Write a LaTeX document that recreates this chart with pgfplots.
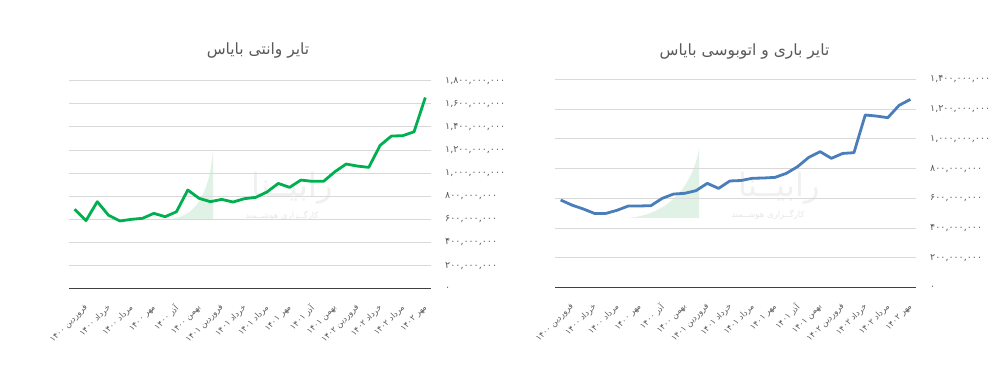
\documentclass[border=0pt]{standalone}
\usepackage{pgfplots}
\pgfplotsset{compat=1.18}
\usepackage{fontspec}
\setmainfont{DejaVu Sans}
\newfontfamily\arabicfont[Script=Arabic]{DejaVu Sans}
\TeXXeTstate=1
\definecolor{txtgray}{HTML}{595959}
\definecolor{gridgray}{HTML}{D9D9D9}
\definecolor{axgray}{HTML}{404040}
\definecolor{lgreen}{HTML}{00B050}
\definecolor{lblue}{HTML}{4A7EBB}
\definecolor{wmgreen}{HTML}{E0F1E5}
\definecolor{wmgray}{HTML}{F0F0F0}
\definecolor{wmgray2}{HTML}{E6E6E6}

\newcommand{\fa}[1]{{\arabicfont\beginR #1\endR}}

\pgfplotsset{
  mystyle/.style={
    scale only axis,
    anchor=south west,
    xmin=-0.5, xmax=31.5, ymin=0,
    axis line style={draw=none},
    ytick pos=right, yticklabel pos=right,
    ymajorgrids, grid style={gridgray, line width=0.9pt},
    major tick length=0pt,
    xtick={0,2,...,30},
    xticklabels={\fa{فروردین ۱۴۰۰},\fa{خرداد ۱۴۰۰},\fa{مرداد ۱۴۰۰},\fa{مهر ۱۴۰۰},\fa{آذر ۱۴۰۰},\fa{بهمن ۱۴۰۰},\fa{فروردین ۱۴۰۱},\fa{خرداد ۱۴۰۱},\fa{مرداد ۱۴۰۱},\fa{مهر ۱۴۰۱},\fa{آذر ۱۴۰۱},\fa{بهمن ۱۴۰۱},\fa{فروردین ۱۴۰۲},\fa{خرداد ۱۴۰۲},\fa{مرداد ۱۴۰۲},\fa{مهر ۱۴۰۲}},
    xticklabel style={xshift=12pt, yshift=-18pt, font=\fontsize{8.2}{9}\selectfont, text=txtgray, rotate=45, anchor=east, inner sep=0pt},
    yticklabel style={font=\arabicfont\fontsize{9.5}{10}\selectfont, text=txtgray, anchor=west, inner sep=0pt, xshift=14pt},
    clip=false,
  }
}

\begin{document}
\begin{tikzpicture}
\useasboundingbox (0,0) rectangle (1001pt,369pt);
% watermarks
\fill[wmgreen] (170pt,150pt) .. controls (198pt,152pt) and (210pt,180pt) .. (213pt,219pt) -- (213pt,150pt) -- cycle;
\node[text=wmgray, font=\arabicfont\fontsize{32}{36}\selectfont, inner sep=0pt] at (292pt,181pt) {\beginR رابیــنا\endR};
\node[text=wmgray2, font=\arabicfont\fontsize{8.5}{9}\selectfont, inner sep=0pt] at (282pt,153pt) {\beginR کارگــزاری هوشــمند\endR};
\fill[wmgreen] (627pt,151pt) .. controls (670pt,154pt) and (693pt,185pt) .. (699pt,220pt) -- (699pt,151pt) -- cycle;
\node[text=wmgray, font=\arabicfont\fontsize{32}{36}\selectfont, inner sep=0pt] at (779pt,181pt) {\beginR رابیــنا\endR};
\node[text=wmgray2, font=\arabicfont\fontsize{8.5}{9}\selectfont, inner sep=0pt] at (768pt,154pt) {\beginR کارگــزاری هوشــمند\endR};
\begin{axis}[mystyle, at={(69pt,80.3pt)}, width=362pt, height=208pt, ymax=1.8,
  ytick={0,0.2,0.4,0.6,0.8,1,1.2,1.4,1.6,1.8},
  yticklabels={۰,{۲۰۰,۰۰۰,۰۰۰},{۴۰۰,۰۰۰,۰۰۰},{۶۰۰,۰۰۰,۰۰۰},{۸۰۰,۰۰۰,۰۰۰},{۱,۰۰۰,۰۰۰,۰۰۰},{۱,۲۰۰,۰۰۰,۰۰۰},{۱,۴۰۰,۰۰۰,۰۰۰},{۱,۶۰۰,۰۰۰,۰۰۰},{۱,۸۰۰,۰۰۰,۰۰۰}}]
\draw[axgray, line width=1.3pt] (axis cs:-0.5,0) -- (axis cs:31.5,0);
\addplot[lgreen, line width=2.8pt, line join=round] coordinates {
(0,0.687) (1,0.589) (2,0.753) (3,0.635) (4,0.586) (5,0.600) (6,0.609) (7,0.652)
(8,0.623) (9,0.666) (10,0.854) (11,0.782) (12,0.753) (13,0.773) (14,0.750) (15,0.779)
(16,0.790) (17,0.837) (18,0.911) (19,0.877) (20,0.940) (21,0.929) (22,0.929) (23,1.012)
(24,1.079) (25,1.061) (26,1.050) (27,1.240) (28,1.321) (29,1.324) (30,1.358) (31,1.655)};
\end{axis}
\node[font=\fontsize{15.5}{17}\selectfont, text=txtgray] at (258pt,318.3pt) {\fa{تایر وانتی بایاس}};

\begin{axis}[mystyle, at={(555pt,81.3pt)}, width=361pt, height=208.4pt, ymax=1.4,
  ytick={0,0.2,0.4,0.6,0.8,1,1.2,1.4},
  yticklabels={۰,{۲۰۰,۰۰۰,۰۰۰},{۴۰۰,۰۰۰,۰۰۰},{۶۰۰,۰۰۰,۰۰۰},{۸۰۰,۰۰۰,۰۰۰},{۱,۰۰۰,۰۰۰,۰۰۰},{۱,۲۰۰,۰۰۰,۰۰۰},{۱,۴۰۰,۰۰۰,۰۰۰}}]
\draw[axgray, line width=1.3pt] (axis cs:-0.5,0) -- (axis cs:31.5,0);
\addplot[lblue, line width=2.8pt, line join=round] coordinates {
(0,0.589) (1,0.555) (2,0.529) (3,0.499) (4,0.499) (5,0.520) (6,0.549) (7,0.549)
(8,0.551) (9,0.600) (10,0.629) (11,0.634) (12,0.652) (13,0.701) (14,0.667) (15,0.717)
(16,0.720) (17,0.735) (18,0.737) (19,0.741) (20,0.768) (21,0.813) (22,0.876) (23,0.914)
(24,0.869) (25,0.902) (26,0.907) (27,1.160) (28,1.153) (29,1.142) (30,1.225) (31,1.265)};
\end{axis}
\node[font=\fontsize{15.5}{17}\selectfont, text=txtgray] at (744.5pt,317.3pt) {\fa{تایر باری و اتوبوسی بایاس}};
\end{tikzpicture}
\end{document}
